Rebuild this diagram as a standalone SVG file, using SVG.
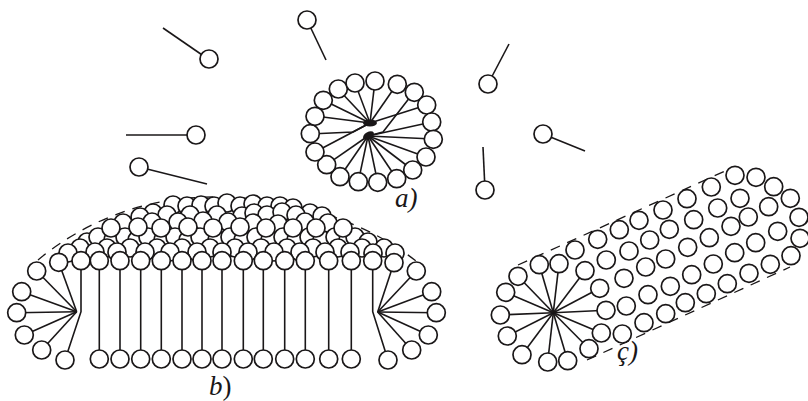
<svg xmlns="http://www.w3.org/2000/svg" width="808" height="401" viewBox="0 0 808 401">
<style>
circle{fill:#fff;stroke:#1a1718;stroke-width:1.7}
line,polyline{stroke:#1a1718;stroke-width:1.6;fill:none}
.dash{fill:none;stroke:#1a1718;stroke-width:1.3;stroke-dasharray:10 8}
.blob{fill:#1a1718;stroke:none}
text{font-family:"Liberation Serif",serif;font-size:27px;fill:#1a1718}
.i{font-style:italic}
</style>
<defs><circle id="h" r="9"/></defs>
<g id="free-lipids">
<g id="lipid-1"><line x1="163" y1="28" x2="208" y2="59"/><use href="#h" x="209" y="59"/></g>
<g id="lipid-2"><line x1="326" y1="60" x2="307" y2="20"/><use href="#h" x="307" y="20"/></g>
<g id="lipid-3"><line x1="509" y1="44" x2="488" y2="84"/><use href="#h" x="488" y="84"/></g>
<g id="lipid-4"><line x1="585" y1="151" x2="543" y2="134"/><use href="#h" x="543" y="134"/></g>
<g id="lipid-5"><line x1="483" y1="147" x2="485" y2="190"/><use href="#h" x="485" y="190"/></g>
<g id="lipid-6"><line x1="126" y1="135" x2="196" y2="135"/><use href="#h" x="196" y="135"/></g>
<g id="lipid-7"><line x1="207" y1="184" x2="139" y2="167"/><use href="#h" x="139" y="167"/></g>
</g>
<g id="micelle-a">
<g id="micelle-a-tails">
<line x1="370" y1="123" x2="375" y2="81"/><line x1="370" y1="123" x2="355" y2="83"/><line x1="370" y1="123" x2="338" y2="89"/><line x1="370" y1="123" x2="323" y2="100"/><line x1="370" y1="123" x2="315" y2="116"/>
<polyline points="310,134 353,132 368,124"/>
<line x1="370" y1="123" x2="315" y2="152"/>
<line x1="370" y1="123" x2="397" y2="84"/><line x1="370" y1="123" x2="426.700" y2="105"/>
<polyline points="414,92 383,132 368,136"/>
<line x1="368" y1="136" x2="432" y2="122"/><line x1="368" y1="136" x2="433" y2="139"/><line x1="368" y1="136" x2="426" y2="157"/><line x1="368" y1="136" x2="412.700" y2="170"/><line x1="368" y1="136" x2="396.700" y2="178.700"/><line x1="368" y1="136" x2="377.700" y2="182.300"/><line x1="368" y1="136" x2="358.300" y2="181.700"/><line x1="368" y1="136" x2="340" y2="176.700"/><line x1="368" y1="136" x2="326.700" y2="164.700"/>
</g>
<ellipse class="blob" cx="370" cy="123" rx="7" ry="3.500"/>
<ellipse class="blob" cx="368.500" cy="135.500" rx="6" ry="3.500" transform="rotate(-30 368.500 135.500)"/>
<use href="#h" x="375" y="81"/><use href="#h" x="397.300" y="84.300"/><use href="#h" x="414.300" y="92.300"/><use href="#h" x="426.700" y="105"/><use href="#h" x="431.700" y="122"/><use href="#h" x="433.300" y="139.300"/><use href="#h" x="426" y="157"/><use href="#h" x="412.700" y="170"/><use href="#h" x="396.700" y="178.700"/><use href="#h" x="377.700" y="182.300"/><use href="#h" x="358.300" y="181.700"/><use href="#h" x="340" y="176.700"/><use href="#h" x="326.700" y="164.700"/><use href="#h" x="315" y="152"/><use href="#h" x="310.300" y="133.700"/><use href="#h" x="315" y="116.300"/><use href="#h" x="323.300" y="100.300"/><use href="#h" x="338.300" y="89"/><use href="#h" x="355" y="83"/>
</g>
<g id="bilayer-b">
<path class="dash" d="M38,260C80,225 140,197 213,197C300,197 370,225 416,261"/>
<g id="dome-heads">
<use href="#h" x="173" y="205"/><use href="#h" x="187" y="206"/><use href="#h" x="201" y="205"/><use href="#h" x="214" y="206"/><use href="#h" x="227" y="203"/><use href="#h" x="240" y="206"/><use href="#h" x="253" y="204"/><use href="#h" x="267" y="206"/><use href="#h" x="280" y="206"/><use href="#h" x="293" y="208"/>
<use href="#h" x="153" y="213"/><use href="#h" x="310" y="213"/>
<use href="#h" x="140" y="217"/><use href="#h" x="167" y="215"/><use href="#h" x="190" y="215"/><use href="#h" x="217" y="215"/><use href="#h" x="242" y="216"/><use href="#h" x="254" y="213"/><use href="#h" x="267" y="215"/><use href="#h" x="282" y="212"/><use href="#h" x="296" y="215"/><use href="#h" x="322" y="216"/>
<use href="#h" x="123" y="223"/><use href="#h" x="152" y="222"/><use href="#h" x="178" y="222"/><use href="#h" x="203" y="221"/><use href="#h" x="228" y="222"/><use href="#h" x="253" y="223"/><use href="#h" x="278" y="224"/><use href="#h" x="305" y="222"/><use href="#h" x="328" y="223"/>
<use href="#h" x="87" y="242"/><use href="#h" x="98" y="237"/><use href="#h" x="113" y="240"/><use href="#h" x="125" y="237"/><use href="#h" x="137" y="240"/><use href="#h" x="148" y="237"/><use href="#h" x="163" y="240"/><use href="#h" x="175" y="237"/><use href="#h" x="188" y="240"/><use href="#h" x="200" y="237"/><use href="#h" x="217" y="240"/><use href="#h" x="230" y="237"/><use href="#h" x="243" y="240"/><use href="#h" x="256" y="237"/><use href="#h" x="270" y="240"/><use href="#h" x="283" y="237"/><use href="#h" x="296" y="240"/><use href="#h" x="309" y="237"/><use href="#h" x="322" y="240"/><use href="#h" x="335" y="237"/><use href="#h" x="348" y="240"/><use href="#h" x="355" y="237"/><use href="#h" x="368" y="242"/>
<use href="#h" x="111" y="228"/><use href="#h" x="138" y="227"/><use href="#h" x="161" y="228"/><use href="#h" x="188" y="227"/><use href="#h" x="213" y="228"/><use href="#h" x="240" y="227"/><use href="#h" x="266" y="228"/><use href="#h" x="293" y="228"/><use href="#h" x="316" y="228"/><use href="#h" x="343" y="228"/>
<use href="#h" x="80" y="248"/><use href="#h" x="107" y="248"/><use href="#h" x="130" y="248"/><use href="#h" x="157" y="248"/><use href="#h" x="182" y="248"/><use href="#h" x="210" y="248"/><use href="#h" x="235" y="248"/><use href="#h" x="261" y="248"/><use href="#h" x="287" y="248"/><use href="#h" x="313" y="248"/><use href="#h" x="338" y="248"/><use href="#h" x="362" y="248"/><use href="#h" x="384" y="248"/>
<use href="#h" x="68" y="253"/><use href="#h" x="95" y="252"/><use href="#h" x="117" y="252"/><use href="#h" x="145" y="252"/><use href="#h" x="170" y="252"/><use href="#h" x="197" y="252"/><use href="#h" x="222" y="252"/><use href="#h" x="248" y="252"/><use href="#h" x="274" y="252"/><use href="#h" x="300" y="252"/><use href="#h" x="325" y="252"/><use href="#h" x="350" y="252"/><use href="#h" x="373" y="253"/><use href="#h" x="395" y="253"/>
</g>
<g id="bilayer-tails">
<line x1="99.300" y1="261" x2="99.300" y2="359"/><line x1="120" y1="261" x2="120" y2="359"/><line x1="140.700" y1="261" x2="140.700" y2="359"/><line x1="161.300" y1="261" x2="161.300" y2="359"/><line x1="182" y1="261" x2="182" y2="359"/><line x1="202" y1="261" x2="202" y2="359"/><line x1="222" y1="261" x2="222" y2="359"/><line x1="243.300" y1="261" x2="243.300" y2="359"/><line x1="263.300" y1="261" x2="263.300" y2="359"/><line x1="284.700" y1="261" x2="284.700" y2="359"/><line x1="305.300" y1="261" x2="305.300" y2="359"/><line x1="328.700" y1="261" x2="328.700" y2="359"/><line x1="351.300" y1="261" x2="351.300" y2="359"/>
<polyline points="81,261 81,311.700 65,360"/>
<polyline points="372.700,261 372.700,311.700 388,360"/>
<line x1="76.700" y1="311.700" x2="58.700" y2="262.300"/><line x1="76.700" y1="311.700" x2="36.700" y2="271"/><line x1="76.700" y1="311.700" x2="21.700" y2="291.700"/><line x1="76.700" y1="311.700" x2="16.700" y2="312.700"/><line x1="76.700" y1="311.700" x2="24.300" y2="335"/><line x1="76.700" y1="311.700" x2="41.700" y2="350"/>
<line x1="377.700" y1="312" x2="394" y2="262.700"/><line x1="377.700" y1="312" x2="416.300" y2="271"/><line x1="377.700" y1="312" x2="431.700" y2="291.700"/><line x1="377.700" y1="312" x2="436.300" y2="312.700"/><line x1="377.700" y1="312" x2="428.300" y2="335"/><line x1="377.700" y1="312" x2="411.700" y2="350"/>
</g>
<g id="bilayer-top-heads">
<use href="#h" x="58.700" y="262.300"/><use href="#h" x="81" y="260.700"/><use href="#h" x="99.300" y="260.700"/><use href="#h" x="120" y="260.700"/><use href="#h" x="140.700" y="260.700"/><use href="#h" x="161.300" y="260.700"/><use href="#h" x="182" y="260.700"/><use href="#h" x="202" y="260.700"/><use href="#h" x="222" y="260.700"/><use href="#h" x="243.300" y="260.700"/><use href="#h" x="263.300" y="260.700"/><use href="#h" x="284.700" y="260.700"/><use href="#h" x="305.300" y="260.700"/><use href="#h" x="328.700" y="260.700"/><use href="#h" x="351.300" y="260.700"/><use href="#h" x="372.700" y="260.700"/><use href="#h" x="394" y="262.700"/>
</g>
<g id="bilayer-bottom-heads">
<use href="#h" x="36.700" y="271"/><use href="#h" x="21.700" y="291.700"/><use href="#h" x="16.700" y="312.700"/><use href="#h" x="24.300" y="335"/><use href="#h" x="41.700" y="350"/><use href="#h" x="65" y="360"/>
<use href="#h" x="99.300" y="359"/><use href="#h" x="120" y="359"/><use href="#h" x="140.700" y="359"/><use href="#h" x="161.300" y="359"/><use href="#h" x="182" y="359"/><use href="#h" x="202" y="359"/><use href="#h" x="222" y="359"/><use href="#h" x="243.300" y="359"/><use href="#h" x="263.300" y="359"/><use href="#h" x="284.700" y="359"/><use href="#h" x="305.300" y="359"/><use href="#h" x="328.700" y="359"/><use href="#h" x="351.300" y="359"/><use href="#h" x="388" y="360"/>
<use href="#h" x="416.300" y="271"/><use href="#h" x="431.700" y="291.700"/><use href="#h" x="436.300" y="312.700"/><use href="#h" x="428.300" y="335"/><use href="#h" x="411.700" y="350"/>
</g>
</g>
<g id="cylinder-c">
<path class="dash" d="M518,265L725,171"/><path class="dash" d="M587,360L790,267"/>
<g id="cylinder-tails">
<line x1="553.300" y1="312.700" x2="539.300" y2="264.700"/><line x1="553.300" y1="312.700" x2="559" y2="263.700"/><line x1="553.300" y1="312.700" x2="585" y2="270.700"/><line x1="553.300" y1="312.700" x2="599.700" y2="288.300"/><line x1="553.300" y1="312.700" x2="606" y2="310.300"/><line x1="553.300" y1="312.700" x2="601.300" y2="333"/><line x1="553.300" y1="312.700" x2="589" y2="348.700"/><line x1="553.300" y1="312.700" x2="567.700" y2="360.700"/><line x1="553.300" y1="312.700" x2="547.700" y2="362"/><line x1="553.300" y1="312.700" x2="522" y2="354.700"/><line x1="553.300" y1="312.700" x2="507.300" y2="336"/><line x1="553.300" y1="312.700" x2="500.300" y2="315"/><line x1="553.300" y1="312.700" x2="505.700" y2="292.300"/><line x1="553.300" y1="312.700" x2="518" y2="276.300"/>
</g>
<g id="cylinder-heads">
<use href="#h" x="735" y="175.300"/><use href="#h" x="756" y="177.300"/><use href="#h" x="773.700" y="186.700"/><use href="#h" x="790.300" y="198.300"/><use href="#h" x="799" y="217.300"/><use href="#h" x="800" y="238.300"/><use href="#h" x="791" y="255.700"/><use href="#h" x="770.300" y="264.300"/><use href="#h" x="749" y="273.300"/><use href="#h" x="727.300" y="283.700"/><use href="#h" x="706.300" y="293.700"/><use href="#h" x="685.300" y="302.700"/><use href="#h" x="665.700" y="313.700"/><use href="#h" x="644" y="322.700"/><use href="#h" x="622.300" y="334"/><use href="#h" x="601.300" y="333"/><use href="#h" x="589" y="348.700"/><use href="#h" x="567.700" y="360.700"/><use href="#h" x="547.700" y="362"/><use href="#h" x="522" y="354.700"/><use href="#h" x="507.300" y="336"/><use href="#h" x="500.300" y="315"/><use href="#h" x="505.700" y="292.300"/><use href="#h" x="518" y="276.300"/><use href="#h" x="539.300" y="264.700"/><use href="#h" x="559" y="263.700"/><use href="#h" x="585" y="270.700"/><use href="#h" x="599.700" y="288.300"/><use href="#h" x="606" y="310.300"/>
<use href="#h" x="575" y="250"/><use href="#h" x="597.700" y="239.300"/><use href="#h" x="619.300" y="229.700"/><use href="#h" x="639" y="220.300"/><use href="#h" x="663" y="210"/><use href="#h" x="687" y="198.700"/><use href="#h" x="711.300" y="187"/><use href="#h" x="740" y="198.300"/><use href="#h" x="717.700" y="208"/><use href="#h" x="693.700" y="219.700"/><use href="#h" x="669.300" y="229.300"/><use href="#h" x="649.700" y="240"/><use href="#h" x="629" y="251"/><use href="#h" x="606.300" y="260"/><use href="#h" x="624" y="278.300"/><use href="#h" x="645.700" y="267"/><use href="#h" x="665.700" y="259"/><use href="#h" x="687.700" y="247.300"/><use href="#h" x="709.300" y="237.700"/><use href="#h" x="731" y="226.300"/><use href="#h" x="748.300" y="217"/><use href="#h" x="768.700" y="206.700"/><use href="#h" x="777.700" y="231.300"/><use href="#h" x="755.700" y="242.700"/><use href="#h" x="734.700" y="252.700"/><use href="#h" x="713.300" y="264"/><use href="#h" x="691.700" y="274.700"/><use href="#h" x="670.300" y="286.300"/><use href="#h" x="648" y="294.700"/><use href="#h" x="626.300" y="306"/>
</g>
</g>
<g id="labels">
<text class="i" x="395" y="207">a)</text>
<text x="209" y="395"><tspan class="i">b</tspan>)</text>
<text class="i" x="617" y="360">ç)</text>
</g>
</svg>
